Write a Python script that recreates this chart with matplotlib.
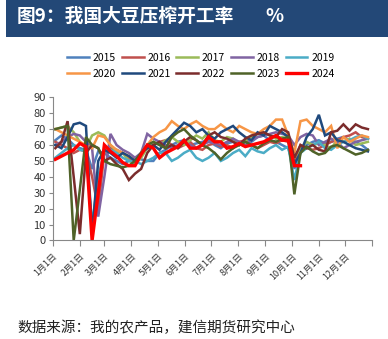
import numpy as np
import matplotlib
matplotlib.use("Agg")
import matplotlib.pyplot as plt
from matplotlib.patches import Rectangle

plt.rcParams['font.family'] = ['Noto Sans CJK SC', 'DejaVu Sans']

years = ['2015', '2016', '2017', '2018', '2019', '2020', '2021', '2022', '2023', '2024']
colors = ['#4F81BD', '#C0504D', '#9BBB59', '#8064A2', '#4BACC6',
          '#F79646', '#1F497D', '#7B2C2C', '#4F6228', '#FF0000']

# weekly operating rate, %
y2015 = [63, 66, 64, 60, 58, 57, 45, 56, 55, 52, 50, 48, 50, 52, 51, 50, 50, 55, 57, 60, 62, 63, 60, 61, 62, 63,
         60, 58, 61, 62, 60, 63, 62, 65, 66, 63, 62, 60, 58, 45, 57, 60, 62, 63, 61, 62, 64, 65, 63, 62, 60, 57]
y2016 = [62, 60, 58, 55, 57, 56, 40, 20, 55, 58, 57, 55, 52, 50, 55, 58, 60, 62, 63, 60, 58, 60, 62, 58, 57, 60,
         61, 59, 60, 58, 62, 63, 60, 58, 60, 62, 61, 63, 62, 50, 60, 58, 57, 58, 60, 62, 63, 65, 66, 68, 65, 64]
y2017 = [70, 71, 72, 68, 62, 58, 66, 68, 66, 60, 56, 55, 50, 48, 52, 58, 62, 60, 63, 65, 62, 60, 63, 66, 64, 68,
         63, 62, 65, 64, 60, 63, 65, 67, 68, 66, 64, 65, 64, 52, 58, 62, 60, 61, 60, 58, 63, 62, 64, 60, 61, 62]
y2018 = [60, 62, 65, 67, 66, 62, 58, 15, 40, 67, 60, 57, 55, 52, 55, 67, 64, 62, 60, 58, 60, 62, 60, 58, 60, 62,
         61, 60, 62, 64, 62, 60, 63, 65, 66, 67, 68, 67, 66, 60, 65, 67, 66, 60, 62, 64, 62, 58, 60, 62, 63, 64]
y2019 = [52, 55, 58, 60, 57, 56, 10, 40, 56, 57, 55, 52, 50, 50, 48, 50, 52, 55, 55, 50, 52, 55, 57, 52, 50, 52,
         55, 50, 52, 55, 57, 53, 58, 56, 55, 58, 60, 57, 59, 38, 55, 58, 60, 62, 58, 57, 60, 62, 63, 65, 66, 64]
y2020 = [70, 68, 66, 64, 62, 60, 58, 66, 65, 60, 57, 55, 53, 50, 55, 60, 65, 68, 70, 75, 72, 70, 73, 75, 72, 70,
         70, 73, 70, 68, 72, 70, 68, 67, 70, 72, 76, 76, 66, 55, 75, 76, 72, 70, 68, 72, 58, 65, 62, 64, 66, 65]
y2021 = [60, 58, 65, 73, 74, 72, 4, 50, 57, 55, 52, 55, 53, 50, 55, 58, 60, 57, 62, 66, 70, 74, 72, 68, 70, 66,
         64, 68, 70, 72, 68, 65, 63, 68, 66, 72, 70, 68, 65, 48, 55, 65, 70, 79, 66, 68, 63, 62, 60, 58, 57, 56]
y2022 = [58, 62, 75, 40, 4, 55, 60, 58, 50, 52, 48, 45, 38, 42, 45, 55, 60, 62, 58, 60, 58, 62, 65, 63, 60, 66,
         68, 65, 64, 62, 60, 64, 66, 67, 68, 66, 65, 70, 68, 52, 60, 58, 60, 57, 56, 68, 69, 73, 69, 73, 71, 70]
y2023 = [70, 71, 72, 0, 32, 65, 60, 58, 50, 48, 47, 46, 47, 50, 55, 60, 62, 60, 58, 65, 68, 70, 66, 63, 60, 58,
         55, 51, 55, 58, 60, 62, 60, 58, 61, 63, 62, 64, 65, 29, 55, 59, 56, 54, 55, 59, 60, 58, 56, 54, 55, 57]
y2024 = [51, 53, 55, 57, 61, 59, 0, 30, 60, 56, 53, 49, 47, 47, 54, 60, 58, 52, 55, 57, 59, 63, 58, 58, 60, 65,
         62, 62, 58, 59, 61, 59, 60, 61, 62, 64, 66, 63, 63, 47, 47]

series = [y2015, y2016, y2017, y2018, y2019, y2020, y2021, y2022, y2023, y2024]

month_days = [0, 31, 59, 90, 120, 151, 181, 212, 243, 273, 304, 334, 365]
month_labels = ['%d月1日' % m for m in range(1, 13)] + ['']

fig = plt.figure(figsize=(3.88, 3.39), dpi=100)

# title banner
fig.patches.append(Rectangle((6 / 388, 1 - 37 / 339), 1, 37 / 339, transform=fig.transFigure,
                             facecolor='#234877', edgecolor='none', zorder=0))
fig.text(17 / 388, 1 - 16 / 339, '图9：我国大豆压榨开工率', color='white', fontsize=13.5,
         fontweight='bold', va='center', ha='left')
fig.text(265 / 388, 1 - 16 / 339, '%', color='white', fontsize=13.5, fontweight='bold',
         va='center', ha='left')

ax = fig.add_axes([0.1358, 0.2906, 0.8237, 0.4224])
handles = []
for yr, c, vals in zip(years, colors, series):
    days = 3 + 7 * np.arange(len(vals))
    lw = 2.4 if yr == '2024' else 1.8
    h, = ax.plot(days, vals, color=c, lw=lw, label=yr, solid_joinstyle='miter')
    handles.append(h)

ax.set_xlim(0, 365)
ax.set_ylim(0, 90)
ax.set_yticks(range(0, 91, 10))
ax.set_xticks(month_days)
ax.set_xticklabels(month_labels, rotation=45, ha='right', rotation_mode='anchor', fontsize=6.5,
                   color='#333333')
ax.tick_params(axis='y', labelsize=8, colors='#333333', length=3, width=0.8, pad=2)
ax.tick_params(axis='x', length=4, width=0.8, color='#888888', pad=4)
ax.tick_params(axis='y', color='#888888')
for s in ['top', 'right']:
    ax.spines[s].set_visible(False)
for s in ['left', 'bottom']:
    ax.spines[s].set_color('#888888')
    ax.spines[s].set_linewidth(0.8)

order = [0, 5, 1, 6, 2, 7, 3, 8, 4, 9]
fig.legend([handles[i] for i in order], [years[i] for i in order], ncol=5, loc='center',
           bbox_to_anchor=(0.518, 1 - 66 / 339), frameon=False, fontsize=7.5,
           handlelength=2.1, handletextpad=0.35, columnspacing=0.55, labelspacing=0.6,
           borderpad=0)

fig.text(17 / 388, 1 - 328 / 339, '数据来源：我的农产品，建信期货研究中心', fontsize=10.5,
         color='#222222', style='italic', va='center', ha='left')

fig.savefig('out.png', dpi=100)
